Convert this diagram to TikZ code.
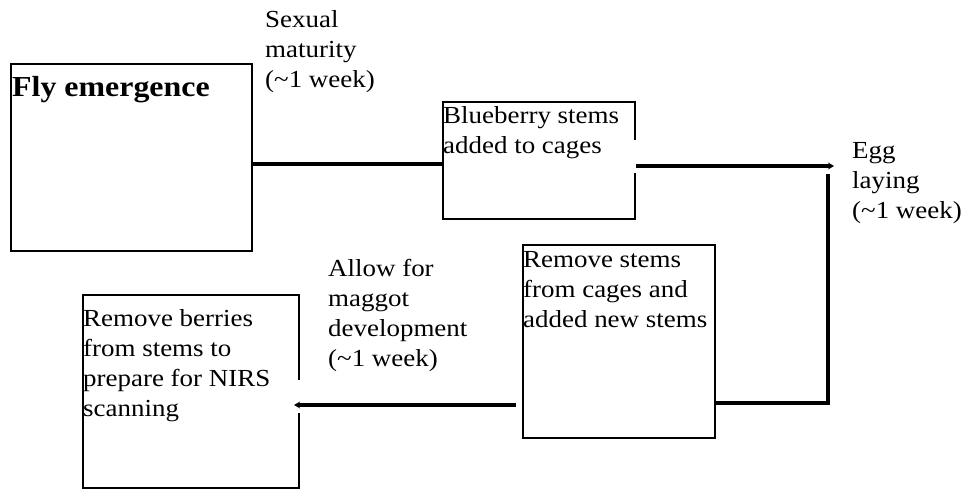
\documentclass[tikz,border=0pt]{standalone}
\usepackage{fontspec}
\setmainfont{Liberation Serif}[FakeStretch=1.1]
\usepackage{tikz}
\usetikzlibrary{arrows.meta}

\begin{document}
\begin{tikzpicture}[x=1pt,y=-1pt,>={Stealth[length=6pt,width=7pt]},inner sep=0pt]

    \tikzstyle{stage}=[draw=black,line width=2.2pt,rectangle]
    \tikzstyle{link}=[draw=black,line width=3.2pt]
    \tikzstyle{note}=[anchor=north west,align=left,font=\fontsize{24.5}{30}\selectfont,execute at begin node=\strut]

    \useasboundingbox (0,0) rectangle (962,489);

    \node[stage,minimum width=241pt,minimum height=187pt] (fly)     at (131.5,157.5) {};
    \node[stage,minimum width=192pt,minimum height=117pt] (blue)    at (539,160.5)   {};
    \node[stage,minimum width=192pt,minimum height=193pt] (stems)   at (619,341.5)   {};
    \node[stage,minimum width=216pt,minimum height=193pt] (berries) at (191,391.5)   {};

    % text frames cut the right borders
    \fill[white] (630,140) rectangle (641,173);
    \fill[white] (294,380) rectangle (305,413);

    \coordinate (lvlA) at (0,164);
    \coordinate (lvlB) at (0,166);
    \coordinate (lvlC) at (0,403);
    \coordinate (lvlD) at (0,405);
    \coordinate (egg) at (834,166);
    \coordinate (eggtop) at (828,174);

    \draw[link] (fly.east |- lvlA) -- (blue.west |- lvlA);
    \draw[link,->] (blue.east |- lvlB) -- (egg);
    \draw[link] (eggtop) -- (eggtop |- lvlC) -- (stems.east |- lvlC);
    \draw[link,->] ([xshift=-6pt]stems.west |- lvlD) -- ([xshift=-6pt]berries.east |- lvlD);

    \node[note,font=\fontsize{29}{30}\selectfont\bfseries] (flytext) at (12,75) {Fly emergence};
    \node[note] (sexual)      at (265,10)  {Sexual\\maturity\\(\textasciitilde 1 week)};
    \node[note] (bluetext)    at (443,106) {Blueberry stems\\added to cages};
    \node[note] (eggtext)     at (852,142) {Egg\\laying\\(\textasciitilde 1 week)};
    \node[note] (allow)       at (328,259) {Allow for\\maggot\\development\\(\textasciitilde 1 week)};
    \node[note] (stemstext)   at (523,251) {Remove stems\\from cages and\\added new stems};
    \node[note] (berriestext) at (83,309)  {Remove berries\\from stems to\\prepare for NIRS\\scanning};
\end{tikzpicture}
\end{document}
